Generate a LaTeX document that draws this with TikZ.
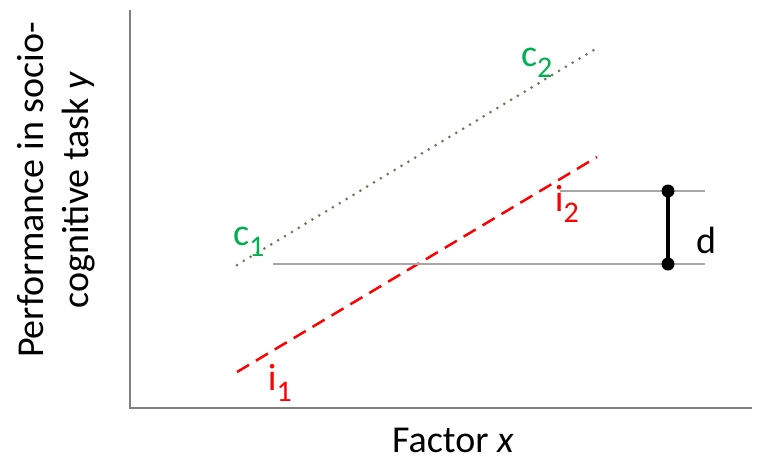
\documentclass[tikz,border=0pt]{standalone}
\usepackage{fontspec}
\setmainfont{Carlito}
\begin{document}
\begin{tikzpicture}[x=1pt,y=-1pt,
  axis/.style={draw=black!50,line width=2pt},
  guide/.style={draw=black!35,line width=1.5pt},
  cline/.style={draw=cdot,line width=3pt,dash pattern=on 0pt off 8pt,line cap=round},
  iline/.style={draw=ired,line width=2.5pt,dash pattern=on 14pt off 8pt},
  lbl/.style={inner sep=0pt,font=\fontsize{38}{45}\selectfont},
  dot/.style={circle,fill=black,inner sep=0pt,minimum size=13pt}]
\definecolor{cgreen}{RGB}{0,176,80}
\definecolor{ired}{RGB}{255,0,0}
\definecolor{cdot}{RGB}{110,120,85}
\useasboundingbox (0,0) rectangle (767,461);
\coordinate (ytop) at (130,10);
\coordinate (origin) at (130,408);
\coordinate (xend) at (752,408);
\draw[axis] (ytop) -- (origin) -- (xend);
% lines
\coordinate (c1s) at (237,265);
\coordinate (c2e) at (597,48);
\coordinate (i1s) at (237,372);
\coordinate (i2e) at (597,157);
\draw[cline] (c1s) -- (c2e);
\draw[iline] (i1s) -- (i2e);
\coordinate (g1s) at (273,264);
\coordinate (g1e) at (705,264);
\coordinate (g2s) at (560,191);
\coordinate (g2e) at (705,191);
\draw[guide] (g1s) -- (g1e);
\draw[guide] (g2s) -- (g2e);
\node[dot] (dtop) at (668,191) {};
\node[dot] (dbot) at (668,264) {};
\draw[line width=3.5pt] (dtop.center) -- (dbot.center);
% labels
\node[lbl,text=cgreen] (c1) at (249,242) {c\textsubscript{\fontsize{30}{30}\selectfont 1}};
\node[lbl,text=cgreen] (c2) at (537,63) {c\textsubscript{\fontsize{30}{30}\selectfont 2}};
\node[lbl,text=ired] (i1) at (280,383) {i\textsubscript{\fontsize{30}{30}\selectfont 1}};
\node[lbl,text=ired] (i2) at (567,204) {i\textsubscript{\fontsize{30}{30}\selectfont 2}};
\node[lbl,anchor=west] (d) at (696,240) {d};
\node[lbl] (xlabel) at (453,440) {Factor \textit{x}};
\node[lbl,rotate=90,align=center] (ylabel) at (56,190) {Performance in socio-\\cognitive task \textit{y}};
\end{tikzpicture}
\end{document}
